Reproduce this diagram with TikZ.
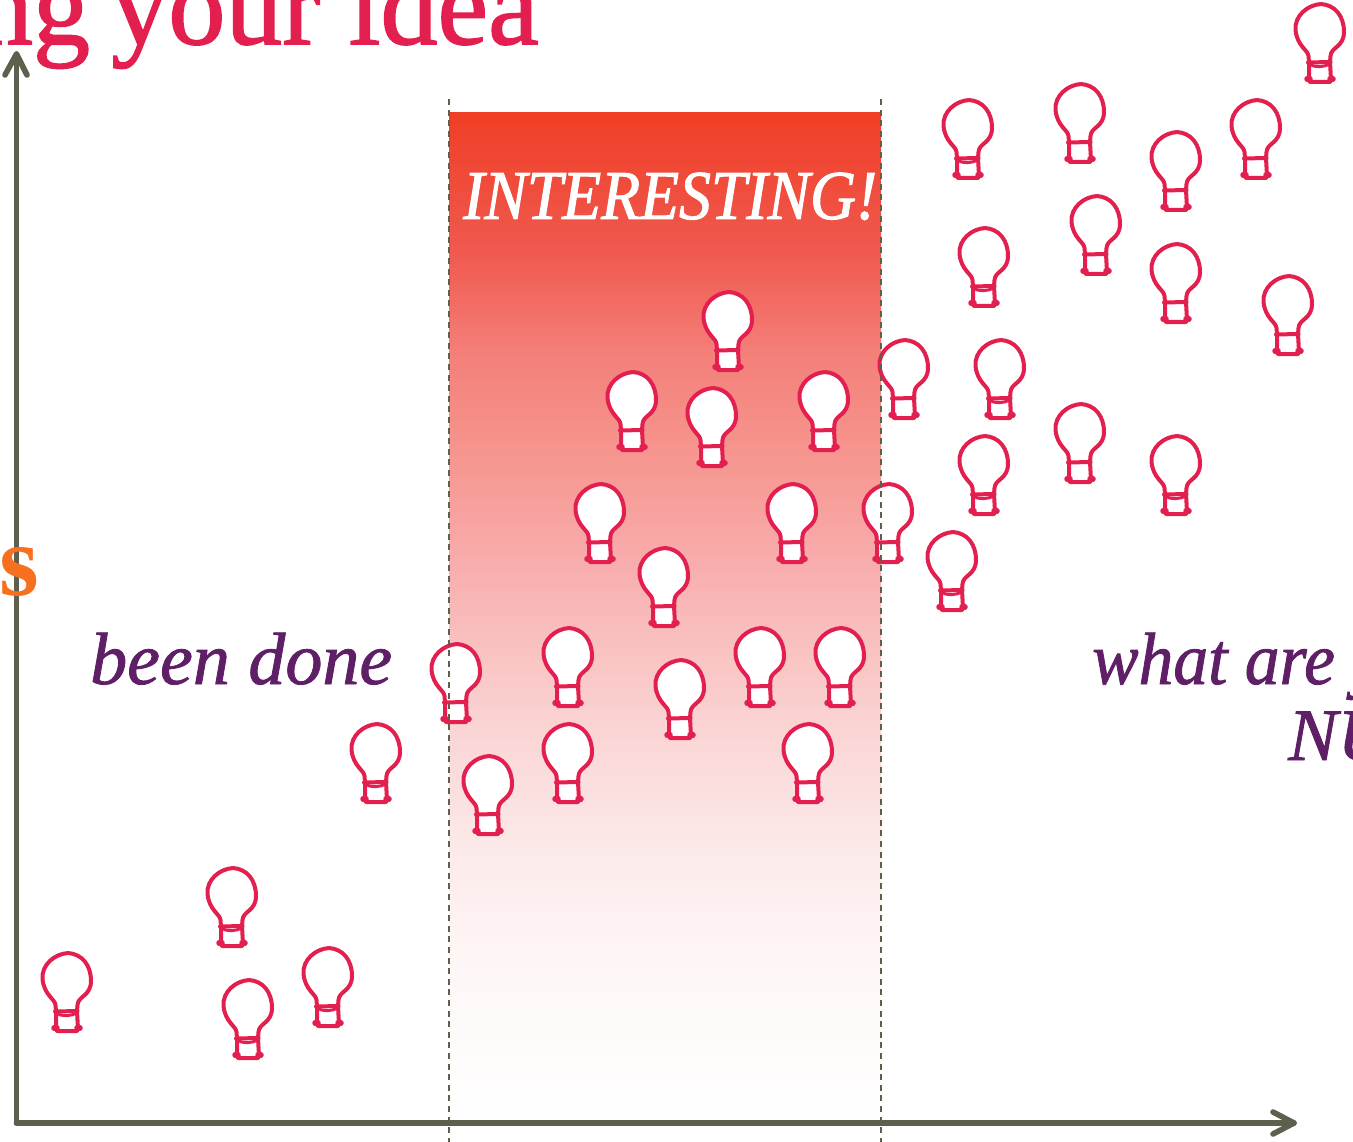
\documentclass[tikz,border=0pt]{standalone}
\usepackage{fontspec}
\setmainfont{Liberation Serif}
\newfontfamily\heavyserif[FakeBold=1.4]{Liberation Serif}
\newfontfamily\labelserif[FakeBold=1.1]{Liberation Serif}
\newfontfamily\bandserif[FakeBold=1.4,FakeStretch=0.91]{Liberation Serif}
\newfontfamily\narrowserif[FakeBold=1.1,FakeStretch=0.94]{Liberation Serif}
\definecolor{bulbred}{HTML}{E21F4F}
\definecolor{axisgrey}{HTML}{5F5F4E}
\definecolor{plum}{HTML}{5F1F66}
\definecolor{tangerine}{HTML}{F7701F}
\pgfdeclareverticalshading{bandfade}{100bp}{
  rgb(0bp)=(1,1,1);
  rgb(25bp)=(1,1,1);
  rgb(33bp)=(0.996,0.965,0.965);
  rgb(38bp)=(0.988,0.922,0.922);
  rgb(43bp)=(0.984,0.855,0.855);
  rgb(48bp)=(0.98,0.769,0.769);
  rgb(53bp)=(0.973,0.671,0.671);
  rgb(58bp)=(0.965,0.588,0.561);
  rgb(63bp)=(0.957,0.502,0.478);
  rgb(68bp)=(0.941,0.353,0.314);
  rgb(72bp)=(0.941,0.29,0.22);
  rgb(75bp)=(0.941,0.243,0.145);
  rgb(100bp)=(0.941,0.243,0.145)}
\tikzset{
  bulbline/.style={draw=bulbred,line width=4pt,line cap=round,line join=round},
  axisline/.style={draw=axisgrey,line width=5.6pt,line cap=round,line join=round},
  guide/.style={draw=axisgrey,line width=2pt,dash pattern=on 6pt off 4.6pt},
  pics/lamp/.style={code={
    \path[bulbline,fill=white] (-10,58) -- (-10.5,52)
      .. controls (-11,46) and (-22,42) .. (-23.5,26)
      .. controls (-24.5,12) and (-12,1) .. (2,0)
      .. controls (16,1) and (25,12) .. (25,28)
      .. controls (25,43) and (12,43) .. (11.5,52)
      -- (11,58) -- (12,76) -- (11,78) -- (-9,78) -- (-10,76) -- cycle;
    \path[bulbline] (-11,58.5) -- (11.5,58);
    \path[bulbline,line width=5.5pt] (-12,75) -- (-9,75);
    \path[bulbline,line width=5.5pt] (11,75) -- (14,75);
  }},
  pics/lampcurved/.style={code={
    \pic {lamp};
    \path[bulbline,line width=3pt] (-10,60) .. controls (-4,64) and (5,63) .. (11,60);
  }}
}
\begin{document}
\begin{tikzpicture}[x=1pt,y=-1pt]
\useasboundingbox (0,0) rectangle (1353,1142);
\clip (0,0) rectangle (1353,1142);
\shade[shading=bandfade] (449,113) rectangle (881,1122);
\foreach \x/\y in {727/292,631/372,711/388,823/372,599/484,791/484,663/548,567/628,679/660,759/628,839/628,487/756,567/724,807/724,455/644,887/484,903/340,1079/84,1175/132,1095/196,1175/244,1287/276,1079/404,1255/100}
  \pic at (\x,\y) {lamp};
\foreach \x/\y in {1319/4,967/100,983/228,999/340,983/436,1175/436,951/532,375/724,231/868,66/953,247/980,327/948}
  \pic at (\x,\y) {lampcurved};
\coordinate (origin) at (16.5,1123);
\coordinate (ytip) at (16.5,54);
\coordinate (xtip) at (1294,1123);
\draw[axisline] (origin) -- (ytip);
\draw[axisline] (5,75) -- (ytip) -- (27,75);
\draw[axisline] (origin) -- (xtip);
\draw[axisline] (1273,1112) -- (xtip) -- (1273,1134);
\coordinate (guideAtop) at (449,99);
\coordinate (guideAend) at (449,1142);
\coordinate (guideBtop) at (881,99);
\coordinate (guideBend) at (881,1142);
\draw[guide] (guideAtop) -- (guideAend);
\draw[guide] (guideBtop) -- (guideBend);
\node[anchor=base east,inner sep=0,text=bulbred,font=\heavyserif\fontsize{114}{114}\selectfont] (title) at (539,44) {ng\kern-7pt{} your idea};
\node[anchor=base east,inner sep=0,text=tangerine,font=\bfseries\fontsize{102}{102}\selectfont] (letter) at (39,595) {s};
\node[anchor=base west,inner sep=0,text=white,font=\bandserif\itshape\fontsize{70}{70}\selectfont] (band) at (463,219) {INTERESTING!};
\node[anchor=base west,inner sep=0,text=plum,font=\labelserif\itshape\fontsize{74}{74}\selectfont] (left) at (90,684) {been done};
\node[anchor=base west,inner sep=0,text=plum,font=\narrowserif\itshape\fontsize{74}{74}\selectfont] (right) at (1092,684) {what are y};
\node[anchor=base west,inner sep=0,text=plum,font=\labelserif\itshape\fontsize{74}{74}\selectfont] (rightb) at (1288,760) {NU};
\end{tikzpicture}
\end{document}
